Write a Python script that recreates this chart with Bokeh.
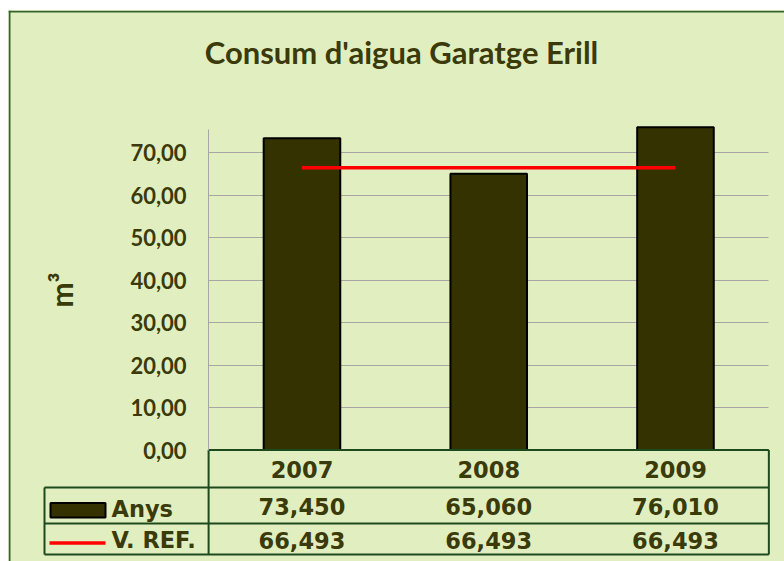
import numpy as np
from bokeh.plotting import figure
from bokeh.models import Range1d, FixedTicker, Label, Span
from bokeh.core.properties import value
from bokeh.embed import file_html
from bokeh.resources import INLINE

# ---------------- data ----------------
years = ["2007", "2008", "2009"]
anys = [73.450, 65.060, 76.010]
vref = [66.493, 66.493, 66.493]
y_ticks = [0, 10, 20, 30, 40, 50, 60, 70]
y_axis_max = 75.5
series_names = ["Anys", "V. REF."]
title_text = "Consum d'aigua Garatge Erill"
y_label = "m\u00b3"

# ---------------- styles ----------------
BG = "#e1efc0"
TXT = "#3a3a0a"
BAR = "#343300"
GRID = "#a6a6a6"
TBL = "#1d4a1d"
BORDER = "#36652a"
RED = "#ff0000"

# layout geometry (canvas pixels -> data coordinates)
X0, CAT_W = 208.1, 186.75
Y0, PX_UNIT = 449.5, 4.246
TXT_SHIFT = 8  # baseline correction for text glyphs


def xd(px):
    return (px - X0) / CAT_W


def yd(py):
    return (Y0 - py) / PX_UNIT


def yt(py):
    return yd(py - TXT_SHIFT)


n = len(years)
cat_x = np.arange(n) + 0.5

p = figure(width=784, height=561, output_backend="svg", toolbar_location=None,
           x_range=Range1d(xd(8), xd(784)), y_range=Range1d(yd(561), yd(10)),
           x_axis_location=None, min_border=0, min_border_top=10,
           min_border_left=8, min_border_right=0, min_border_bottom=0)
p.background_fill_color = BG
p.border_fill_color = "white"
p.outline_line_color = None

# chart border (top and left visible in the window)
p.add_layout(Span(location=yd(11), dimension="width", line_color=BORDER, line_width=2))
p.add_layout(Span(location=xd(9), dimension="height", line_color=BORDER, line_width=2))

# grid
p.xgrid.visible = False
g = p.ygrid[0]
g.grid_line_color = GRID
g.grid_line_width = 1
g.bounds = (y_ticks[1], y_ticks[-1])
if "cross_bounds" in g.properties():
    g.cross_bounds = (0, n)
else:
    g.visible = False
    gt = y_ticks[1:]
    p.segment(x0=[0] * len(gt), x1=[n] * len(gt), y0=gt, y1=gt, line_color=GRID, line_width=1)

# y axis
ax = p.yaxis[0]
ax.fixed_location = 0
ax.bounds = (0, y_axis_max)
ax.ticker = FixedTicker(ticks=y_ticks)
ax.major_label_overrides = {t: f"{t:.2f}".replace(".", ",") for t in y_ticks}
ax.axis_line_color = GRID
ax.axis_line_width = 1
ax.major_tick_line_color = None
ax.minor_tick_line_color = None
ax.major_label_standoff = 16
ax.major_label_text_font = "Lato"
ax.major_label_text_font_size = "22px"
ax.major_label_text_font_style = "bold"
ax.major_label_text_color = TXT
ax.axis_label = y_label
ax.axis_label_text_font = "Lato"
ax.axis_label_text_font_size = "30px"
ax.axis_label_text_font_style = "bold"
ax.axis_label_text_color = TXT
ax.axis_label_standoff = 48

# bars and reference line
p.vbar(x=cat_x, top=anys, bottom=0, width=0.41, fill_color=BAR, line_color="black", line_width=2)
p.line(x=cat_x, y=vref, line_color=RED, line_width=3.5)

# title
p.add_layout(Label(x=xd(401), y=yd(63 - 12), text=title_text, text_align="center",
                   text_baseline="alphabetic", text_font="Lato", text_font_size="31px",
                   text_font_style="bold", text_color=TXT))

# data table lines
rows_px = [487, 523, 554]
hx0 = [0] + [xd(44)] * len(rows_px)
hx1 = [n] * (len(rows_px) + 1)
hy = [0] + [yd(r) for r in rows_px]
p.segment(x0=hx0, x1=hx1, y0=hy, y1=hy, line_color=TBL, line_width=2)
p.segment(x0=[xd(44), 0, n], x1=[xd(44), 0, n],
          y0=[yd(487), 0, 0], y1=[yd(554)] * 3, line_color=TBL, line_width=2)

tfont = dict(text_font=value("DejaVu Sans"), text_font_size="22.5px", text_font_style="bold",
             text_color=TXT, text_baseline="alphabetic")
p.text(x=cat_x, y=[yt(476.5)] * n, text=years, text_align="center", **tfont)
p.text(x=cat_x, y=[yt(514)] * n, text=[f"{v:.3f}".replace(".", ",") for v in anys],
       text_align="center", **tfont)
p.text(x=cat_x, y=[yt(547.5)] * n, text=[f"{v:.3f}".replace(".", ",") for v in vref],
       text_align="center", **tfont)

# legend keys in the table
p.text(x=[xd(111)] * 2, y=[yt(516), yt(547.5)], text=series_names, text_align="left", **tfont)
p.quad(left=[xd(50)], right=[xd(105)], top=[yd(502.5)], bottom=[yd(517)],
       fill_color=BAR, line_color="black", line_width=2)
p.segment(x0=[xd(49)], x1=[xd(105)], y0=[yd(542.5)], y1=[yd(542.5)],
          line_color=RED, line_width=3.5)

open("out.html", "w").write(file_html(p, INLINE))
